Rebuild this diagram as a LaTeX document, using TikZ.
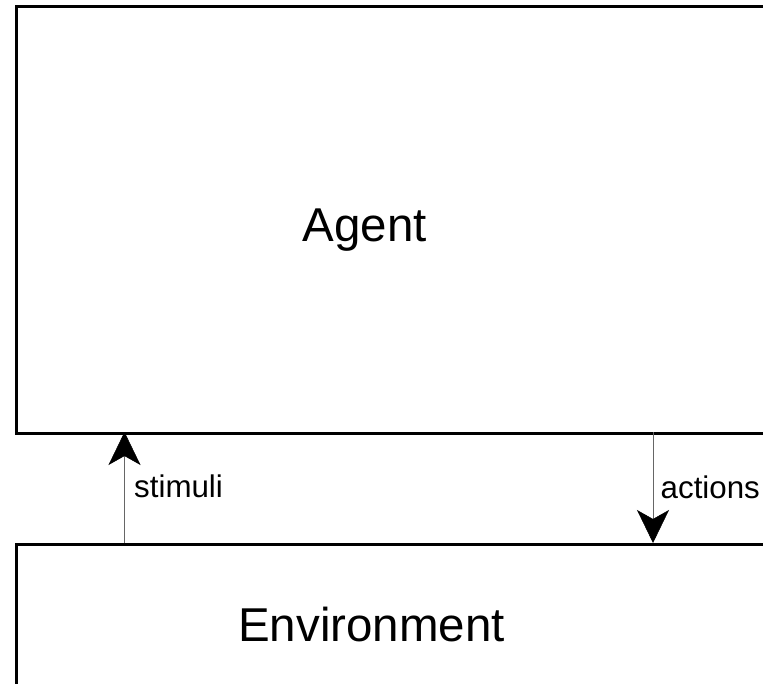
\documentclass[tikz,border=0pt]{standalone}
\usepackage{fontspec}
\setmainfont{Liberation Sans}
\usetikzlibrary{arrows.meta}
\begin{document}
\begin{tikzpicture}[x=1pt,y=-1pt,
  block/.style={draw=black, line width=2.6pt, rectangle, inner sep=0pt, anchor=north west},
  flow/.style={draw=black!60, line width=0.9pt,
    -{Stealth[length=33pt, width=32pt, inset=9pt, color=black, fill=black, line width=0.5pt]}},
  big/.style={font=\fontsize{47.5}{52}\selectfont, inner sep=0pt, anchor=base west},
  small/.style={font=\fontsize{31.3}{34}\selectfont, inner sep=0pt, anchor=base west}]
  \useasboundingbox (0,0) rectangle (763,684);
  % the two blocks
  \node[block, minimum width=748pt, minimum height=427pt] (agent) at (15,5) {};
  \node[block, minimum width=748pt, minimum height=142pt] (env) at (15,543) {};
  % block titles
  \node[big] (agentlbl) at (302.5,242) {Agent};
  \node[big] (envlbl) at (238,641.5) {Environment};
  % the two flows between them
  \coordinate (sbot) at (124.5,543);
  \coordinate (stop) at (124.5,432);
  \coordinate (atop) at (653,432);
  \coordinate (abot) at (653,543);
  \draw[flow] (sbot) -- (stop);
  \draw[flow] (atop) -- (abot);
  \node[small] (stim) at (134,497) {stimuli};
  \node[small] (act) at (660.5,498) {actions};
\end{tikzpicture}
\end{document}
